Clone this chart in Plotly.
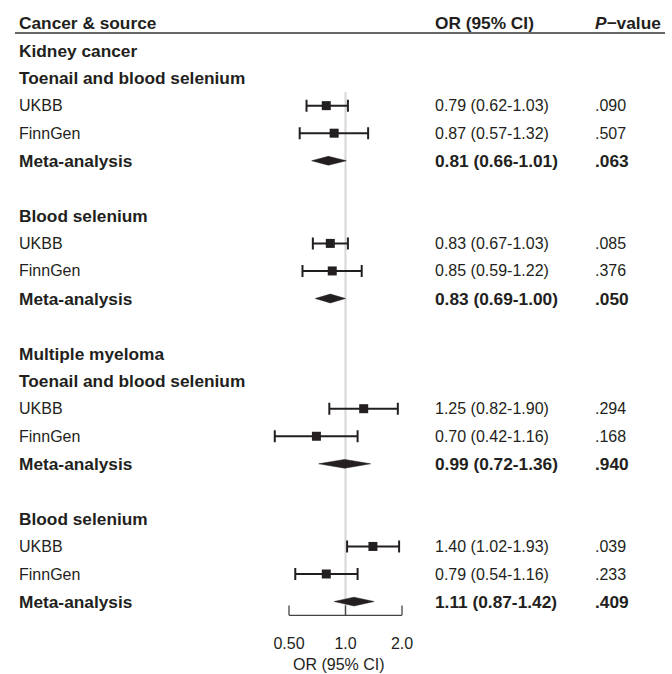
import math
import plotly.graph_objects as go

# ---------------- data ----------------
labels = ["Kidney cancer", "Toenail and blood selenium", "UKBB", "FinnGen", "Meta-analysis", "",
          "Blood selenium", "UKBB", "FinnGen", "Meta-analysis", "",
          "Multiple myeloma", "Toenail and blood selenium", "UKBB", "FinnGen", "Meta-analysis", "",
          "Blood selenium", "UKBB", "FinnGen", "Meta-analysis"]
kinds = ["head", "head", "study", "study", "meta", "",
         "head", "study", "study", "meta", "",
         "head", "head", "study", "study", "meta", "",
         "head", "study", "study", "meta"]
or_est = [None, None, 0.79, 0.87, 0.81, None,
          None, 0.83, 0.85, 0.83, None,
          None, None, 1.25, 0.70, 0.99, None,
          None, 1.40, 0.79, 1.11]
ci_lo = [None, None, 0.62, 0.57, 0.66, None,
         None, 0.67, 0.59, 0.69, None,
         None, None, 0.82, 0.42, 0.72, None,
         None, 1.02, 0.54, 0.87]
ci_hi = [None, None, 1.03, 1.32, 1.01, None,
         None, 1.03, 1.22, 1.00, None,
         None, None, 1.90, 1.16, 1.36, None,
         None, 1.93, 1.16, 1.42]
or_text = ["", "", "0.79 (0.62-1.03)", "0.87 (0.57-1.32)", "0.81 (0.66-1.01)", "",
           "", "0.83 (0.67-1.03)", "0.85 (0.59-1.22)", "0.83 (0.69-1.00)", "",
           "", "", "1.25 (0.82-1.90)", "0.70 (0.42-1.16)", "0.99 (0.72-1.36)", "",
           "", "1.40 (1.02-1.93)", "0.79 (0.54-1.16)", "1.11 (0.87-1.42)"]
p_text = ["", "", ".090", ".507", ".063", "",
          "", ".085", ".376", ".050", "",
          "", "", ".294", ".168", ".940", "",
          "", ".039", ".233", ".409"]
tick_vals = [0.5, 1.0, 2.0]
tick_labels = ["0.50", "1.0", "2.0"]
header_labels = ["Cancer & source", "OR (95% CI)", "<i>P</i>\u2212value"]
axis_title = "OR (95% CI)"

# ---------------- styling ----------------
INK = "#231f20"
FONT = "Liberation Sans, Arial, Helvetica, sans-serif"
W, H = 672, 674
ROW0_PX, ROW_PX = 23.0, 27.55
X1_PX, DEC_PX = 345.5, 187.7

rows = [i + 1 for i in range(len(labels))]  # row 0 is the header
n_last = rows[-1]

fig = go.Figure()

# reference line at OR = 1
fig.add_trace(go.Scatter(x=[1, 1], y=[2.5, n_last + 0.5], mode="lines",
                         line=dict(color="#d6d6d6", width=2), hoverinfo="skip"))

# study estimates with CI
sx, sy, ep, em = [], [], [], []
for r, k, e, lo, hi in zip(rows, kinds, or_est, ci_lo, ci_hi):
    if k == "study":
        sx.append(e); sy.append(r); ep.append(hi - e); em.append(e - lo)
fig.add_trace(go.Scatter(
    x=sx, y=sy, mode="markers",
    marker=dict(symbol="square", size=9, color=INK),
    error_x=dict(type="data", symmetric=False, array=ep, arrayminus=em,
                 width=6, thickness=2, color=INK),
    hoverinfo="skip"))

# meta-analysis diamonds
dx, dy = [], []
hh = 0.16
for r, k, e, lo, hi in zip(rows, kinds, or_est, ci_lo, ci_hi):
    if k == "meta":
        dx += [lo, e, hi, e, lo, None]
        dy += [r, r - hh, r, r + hh, r, None]
fig.add_trace(go.Scatter(x=dx, y=dy, mode="lines", fill="toself",
                         fillcolor=INK, line=dict(color=INK, width=0.5),
                         hoverinfo="skip"))

# custom x-axis (bracket style)
ax_y = n_last + 0.5
tick_len = 0.36
fig.add_trace(go.Scatter(x=[tick_vals[0], tick_vals[-1]], y=[ax_y, ax_y], mode="lines",
                         line=dict(color="#444444", width=1.3), hoverinfo="skip"))
tx, ty = [], []
for v in tick_vals:
    tx += [v, v, None]
    ty += [ax_y, ax_y - tick_len, None]
fig.add_trace(go.Scatter(x=tx, y=ty, mode="lines",
                         line=dict(color="#444444", width=1.3), hoverinfo="skip"))
fig.add_trace(go.Scatter(x=tick_vals, y=[ax_y + 1.08] * len(tick_vals), mode="text",
                         text=tick_labels, textposition="middle center",
                         textfont=dict(family=FONT, size=16, color=INK), hoverinfo="skip"))

annotations = []
def txt(xpx, row, s, bold=False, size=None, anchor="left"):
    if bold:
        s = "<b>" + s + "</b>"
    annotations.append(dict(
        x=xpx / W, xref="paper", y=row, yref="y", text=s, showarrow=False,
        xanchor=anchor, yanchor="middle",
        font=dict(family=FONT, size=size or (17.3 if bold else 16), color=INK)))

# header
txt(17, 0, header_labels[0], bold=True)
txt(433, 0, header_labels[1], bold=True)
txt(593, 0, header_labels[2], bold=True)

for r, k, lab, o, p in zip(rows, kinds, labels, or_text, p_text):
    if not k:
        continue
    b = k in ("head", "meta")
    txt(17, r, lab, bold=b)
    if o:
        txt(433, r, o, bold=(k == "meta"))
        txt(593, r, p, bold=(k == "meta"))

txt(339, ax_y + 1.8, axis_title, anchor="center")

# header rule
shapes = [dict(type="line", xref="paper", yref="y", x0=15 / W, x1=665 / W,
               y0=0.36, y1=0.36, line=dict(color="#333333", width=1.5))]

xr = [(-X1_PX) / DEC_PX, (W - X1_PX) / DEC_PX]
yr = [(H - ROW0_PX) / ROW_PX, (0 - ROW0_PX) / ROW_PX]

fig.update_layout(
    width=W, height=H, margin=dict(l=0, r=0, t=0, b=0),
    paper_bgcolor="white", plot_bgcolor="white", showlegend=False,
    hovermode=False,
    xaxis=dict(type="log", range=xr, visible=False, domain=[0, 1]),
    yaxis=dict(range=yr, visible=False, domain=[0, 1]),
    annotations=annotations, shapes=shapes,
)

fig.write_html("out.html", config={"displayModeBar": False, "staticPlot": True},
               post_script="document.body.style.margin='0';document.body.style.overflow='hidden';")
